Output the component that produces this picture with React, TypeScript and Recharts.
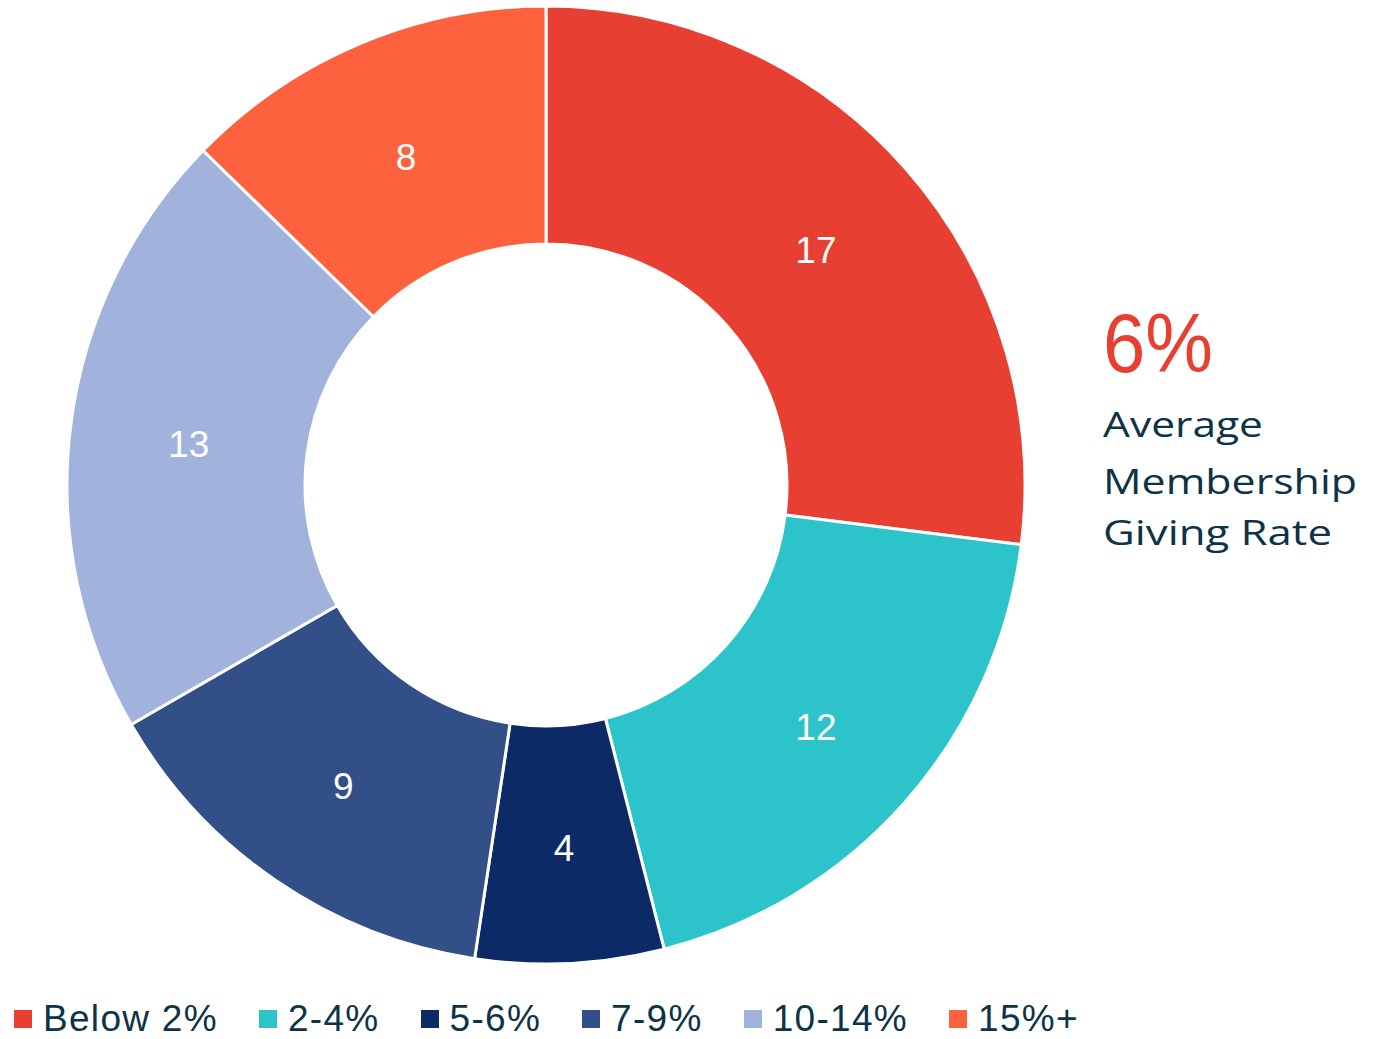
import { PieChart, Pie, Cell } from 'recharts';

const categories = ['Below 2%', '2-4%', '5-6%', '7-9%', '10-14%', '15%+'];
const counts = [17, 12, 4, 9, 13, 8];
const colors = ['#E83F33', '#2DC3CA', '#0C2B66', '#324F88', '#A1B3DC', '#FE613E'];

const headline = '6%';
const captionLines = ['Average', 'Membership', 'Giving Rate'];
const captionWidths = [160, 254, 229];
const captionBaselines = [437, 494, 545];

const data = categories.map((name, i) => ({ name, value: counts[i] }));

const RADIAN = Math.PI / 180;
const textColor = '#0D3347';

function renderLabel(props: any) {
    const { cx, cy, midAngle, innerRadius, outerRadius, value } = props;
    const r = (innerRadius + outerRadius) / 2;
    const x = cx + r * Math.cos(-midAngle * RADIAN);
    const y = cy + r * Math.sin(-midAngle * RADIAN);
    return (
        <text
            x={x}
            y={y + 4}
            fill="#fff"
            textAnchor="middle"
            dominantBaseline="central"
            fontFamily="Liberation Sans, Arial, sans-serif"
            fontSize={37}
        >
            {value}
        </text>
    );
}

export default function App() {
    return (
        <div style={{ position: 'absolute', left: 0, top: 0, width: 1377, height: 1039, background: '#fff' }}>
            <PieChart width={1377} height={1039}>
                <Pie
                    data={data}
                    dataKey="value"
                    nameKey="name"
                    cx={541}
                    cy={480}
                    innerRadius={241}
                    outerRadius={479}
                    startAngle={90}
                    endAngle={-270}
                    stroke="#fff"
                    strokeWidth={3}
                    label={renderLabel}
                    labelLine={false}
                    isAnimationActive={false}
                >
                    {data.map((d, i) => (
                        <Cell key={d.name} fill={colors[i]} />
                    ))}
                </Pie>
            </PieChart>

            <svg
                width={1377}
                height={1039}
                style={{ position: 'absolute', left: 0, top: 0, pointerEvents: 'none' }}
            >
                <text
                    x={1103}
                    y={372}
                    fill="#E83F33"
                    fontFamily="Liberation Sans, Arial, sans-serif"
                    fontSize={84}
                    textLength={110}
                    lengthAdjust="spacingAndGlyphs"
                >
                    {headline}
                </text>
                {captionLines.map((line, i) => (
                    <text
                        key={line}
                        x={1103}
                        y={captionBaselines[i]}
                        fill={textColor}
                        fontFamily="Open Sans, sans-serif"
                        fontWeight={500}
                        fontSize={35}
                        textLength={captionWidths[i]}
                        lengthAdjust="spacingAndGlyphs"
                    >
                        {line}
                    </text>
                ))}
            </svg>

            <div
                style={{
                    position: 'absolute',
                    left: 14,
                    top: 998,
                    display: 'flex',
                    alignItems: 'center',
                    fontFamily: 'Liberation Sans, Arial, sans-serif',
                    fontSize: 37,
                    lineHeight: '41px',
                    letterSpacing: 1.3,
                    color: textColor,
                }}
            >
                {categories.map((c, i) => (
                    <div key={c} style={{ display: 'flex', alignItems: 'center', marginRight: 41 }}>
                        <span style={{ width: 18, height: 18, background: colors[i], marginRight: 11, display: 'inline-block' }} />
                        <span>{c}</span>
                    </div>
                ))}
            </div>
        </div>
    );
}
